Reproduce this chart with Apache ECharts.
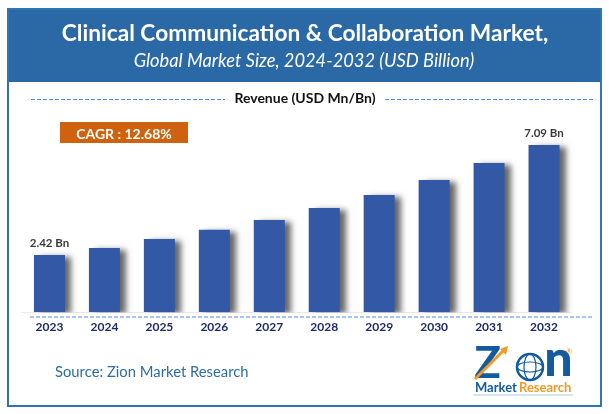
<!DOCTYPE html>
<html lang="en">
<head>
    <meta charset="UTF-8">
    <title>Clinical Communication & Collaboration Market</title>
    <script src="https://cdn.jsdelivr.net/npm/echarts@6/dist/echarts.min.js"></script>
    <style>
        html, body { margin: 0; padding: 0; background: #fff; }
        #main { width: 609px; height: 414px; }
    </style>
</head>
<body>
<div id="main"></div>
<script>
    // values
    var years = ['2023', '2024', '2025', '2026', '2027', '2028', '2029', '2030', '2031', '2032'];
    var revenue = [2.42, 2.72, 3.10, 3.49, 3.91, 4.41, 4.97, 5.60, 6.33, 7.09];
    var barLabels = ['2.42 Bn', '', '', '', '', '', '', '', '', '7.09 Bn'];

    var FONT = 'Lato';
    var BLUE = '#2e75b6';
    var DASH = '#4f8ae6';

    function dashLine(x1, y1, x2, y2) {
        return {
            type: 'line', z: 7, silent: true,
            shape: { x1: x1, y1: y1, x2: x2, y2: y2 },
            style: { stroke: DASH, lineWidth: 1, lineDash: [4, 2] }
        };
    }
    function label(x, y, text, size, color, weight, align, style) {
        return {
            type: 'text', z: 10, silent: true, x: x, y: y,
            style: {
                text: text, fill: color, align: align || 'center', verticalAlign: 'middle',
                font: (style || 'normal') + ' ' + (weight || 'normal') + ' ' + size + 'px ' + FONT
            }
        };
    }

    var myChart = echarts.init(document.getElementById('main'));
    var option = {
        animation: false,
        backgroundColor: '#ffffff',
        grid: { left: 22, width: 549.5, top: 100, height: 212 },
        xAxis: {
            type: 'category',
            data: years,
            axisLine: { lineStyle: { color: '#d2d2d2', width: 1 } },
            axisTick: { show: false },
            axisLabel: { color: '#1f2a66', fontFamily: FONT, fontWeight: 'bold', fontSize: 12, margin: 9 }
        },
        yAxis: { type: 'value', min: 0, max: 9, show: false, splitLine: { show: false } },
        series: [{
            type: 'bar',
            data: revenue,
            barWidth: 31,
            itemStyle: {
                color: '#3358a6',
                shadowColor: 'rgba(0,0,0,0.6)',
                shadowBlur: 6,
                shadowOffsetX: 6,
                shadowOffsetY: 2
            },
            label: {
                show: true,
                position: 'top',
                distance: 6,
                color: '#3a3a3a',
                fontFamily: FONT,
                fontWeight: 'bold',
                fontSize: 11.5,
                formatter: function (p) { return barLabels[p.dataIndex]; }
            }
        }],
        graphic: [
            // header and frame
            { type: 'rect', z: 1, silent: true, shape: { x: 8, y: 9, width: 593, height: 73 }, style: { fill: '#2a69a6' } },
            { type: 'rect', z: 20, silent: true, shape: { x: 8, y: 9, width: 593, height: 397 }, style: { fill: 'none', stroke: BLUE, lineWidth: 2 } },
            label(305, 34, 'Clinical Communication & Collaboration Market,', 22.7, '#ffffff', 'bold'),
            label(304, 61, 'Global Market Size, 2024-2032 (USD Billion)', 18.3, '#ffffff', 'normal', 'center', 'italic'),
            // revenue heading
            dashLine(31, 99.5, 225, 99.5),
            dashLine(385, 99.5, 593, 99.5),
            label(305, 98, 'Revenue (USD Mn/Bn)', 14, '#111111', 'bold'),
            // cagr badge
            { type: 'rect', z: 6, silent: true, shape: { x: 60, y: 122, width: 128, height: 21 }, style: { fill: '#d0610e' } },
            label(124, 134, 'CAGR : 12.68%', 14, '#ffffff', 'bold'),
            // below the axis
            { type: 'rect', z: 6, silent: true, shape: { x: 22, y: 312.5, width: 570, height: 8 }, style: { fill: '#ffffff' } },
            dashLine(30, 317, 593, 317),
            label(55, 372, 'Source: Zion Market Research', 14.8, '#2e6da4', 'normal', 'left'),
            // zion logo
            label(487.5, 364, 'Z', 44, '#135a9e', 'bold'),
            { type: 'line', z: 11, silent: true, shape: { x1: 475, y1: 379, x2: 505, y2: 349 }, style: { stroke: '#f39a26', lineWidth: 3 } },
            { type: 'polygon', z: 11, silent: true, shape: { points: [[508, 346], [500, 349], [506, 355]] }, style: { fill: '#f39a26' } },
            { type: 'circle', z: 10, silent: true, shape: { cx: 530, cy: 367, r: 13 }, style: { fill: '#ffffff', stroke: '#135a9e', lineWidth: 2.5 } },
            { type: 'ellipse', z: 11, silent: true, shape: { cx: 530, cy: 367, rx: 6, ry: 13 }, style: { fill: 'none', stroke: '#135a9e', lineWidth: 1.2 } },
            { type: 'ellipse', z: 11, silent: true, shape: { cx: 530, cy: 367, rx: 13, ry: 5 }, style: { fill: 'none', stroke: '#135a9e', lineWidth: 1.2 } },
            label(558.5, 360, 'n', 50, '#135a9e', '900'),
            label(569, 351, '®', 8, '#f39a26'),
            label(475, 388, 'Market', 13, '#135a9e', 'bold', 'left'),
            label(519, 388, 'Research', 13, '#f39a26', 'bold', 'left'),
            { type: 'line', z: 9, silent: true, shape: { x1: 473, y1: 395, x2: 573, y2: 395 }, style: { stroke: '#a9cbe6', lineWidth: 1 } }
        ]
    };
    myChart.setOption(option);
</script>
</body>
</html>
